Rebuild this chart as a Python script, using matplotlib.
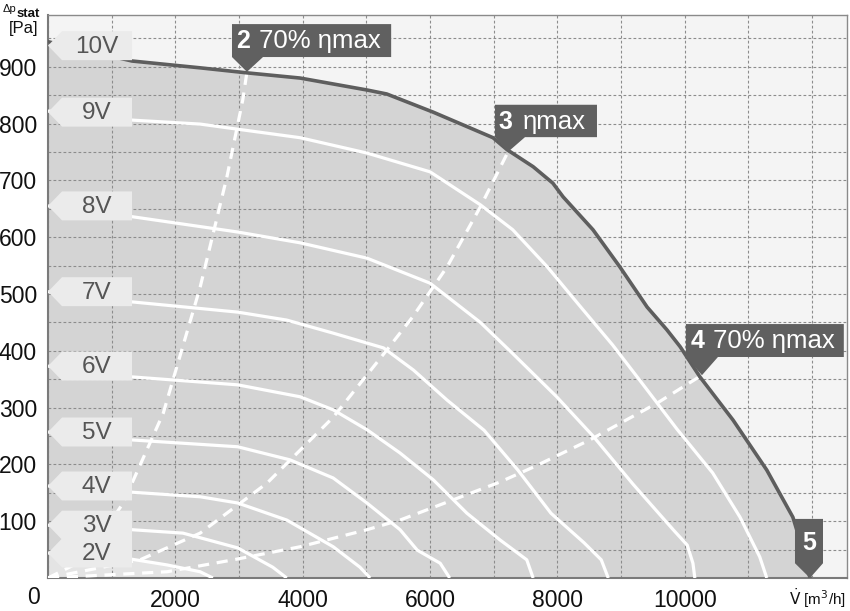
import matplotlib
matplotlib.use("Agg")
import matplotlib.pyplot as plt
from matplotlib.patches import Polygon

plt.rcParams['font.family'] = ['Liberation Sans', 'DejaVu Sans']

# fan curves: flow [m3/h], static pressure [Pa]
v10 = [0, 1320, 2390, 3140, 3960, 5010, 5320, 6050, 6990, 7210, 7620, 7930, 8090, 8560, 8980, 9410, 9720, 9930, 10240, 10760, 11290, 11700, 11760, 11970]
p10 = [944, 910, 898, 889, 880, 859, 852, 820, 775, 754, 724, 695, 671, 613, 548, 477, 437, 407, 354, 278, 190, 107, 85, 0]

v9 = [0, 1320, 2390, 3960, 5010, 6000, 6790, 7300, 7840, 8360, 8870, 9350, 9880, 10440, 10870, 11180, 11290]
p9 = [822, 806, 799, 775, 748, 715, 657, 613, 548, 478, 410, 340, 262, 185, 107, 37, 0]

v8 = [0, 1320, 2980, 3960, 5010, 6000, 6790, 7300, 7990, 8560, 9190, 9820, 10040, 10130, 10160]
p8 = [655, 636, 609, 590, 563, 519, 450, 395, 319, 250, 165, 85, 58, 26, 0]

v7 = [0, 1320, 2980, 3750, 4480, 5270, 5740, 6270, 6850, 7380, 7900, 8420, 8690, 8800]
p7 = [504, 486, 468, 454, 431, 405, 366, 313, 260, 190, 114, 62, 32, 0]

v6 = [0, 1320, 2980, 3960, 4480, 5010, 5530, 6050, 6580, 7100, 7520, 7620]
p6 = [373, 354, 340, 319, 296, 261, 220, 173, 114, 67, 32, 0]

v5 = [0, 1320, 2980, 3800, 4480, 5010, 5530, 5800, 6160, 6310]
p5 = [257, 243, 231, 208, 176, 132, 85, 49, 26, 0]

v4 = [0, 1320, 2390, 2980, 3750, 4480, 4900, 5060]
p4 = [162, 151, 143, 132, 102, 55, 19, 0]

v3 = [0, 1320, 2120, 2980, 3530, 3750]
p3 = [93, 85, 79, 53, 19, 0]

v2 = [0, 1320, 1870, 2390, 2590]
p2 = [44, 33, 23, 11, 0]

curves_v = [v9, v8, v7, v6, v5, v4, v3, v2]
curves_p = [p9, p8, p7, p6, p5, p4, p3, p2]

# system lines (dashed)
sys2_v = [0, 600, 1180, 1810, 2390, 2810, 3060, 3125]
sys2_p = [0, 34, 132, 290, 512, 706, 842, 891]
sys3_v = [0, 1445, 2390, 3440, 4480, 5320, 5730, 6270, 6790, 7225]
sys3_p = [0, 32, 79, 167, 283, 401, 460, 548, 653, 750]
sys4_v = [0, 1870, 2910, 3960, 5010, 5530, 7100, 7620, 8510, 9570, 10270]
sys4_p = [0, 11, 32, 55, 85, 102, 169, 195, 243, 308, 357]

volt_labels = ['10V', '9V', '8V', '7V', '6V', '5V', '4V', '3V', '2V']
volt_y = [937, 820, 655, 504, 373, 257, 162, 93, 44]

x_ticks = [2000, 4000, 6000, 8000, 10000]
y_ticks = [100, 200, 300, 400, 500, 600, 700, 800, 900]

fig = plt.figure(figsize=(8.5, 6.11), dpi=100)
ax = fig.add_axes([48/850, 1-578/611, (847-48)/850, (578-15)/611])
ax.set_facecolor('#f4f4f4')
ax.set_xlim(0, 12550)
ax.set_ylim(0, 991)

# operating area
ax.fill_between(v10, p10, 0, color='#d4d4d4', lw=0, zorder=1)
ax.fill_between(v2, p2, 0, color='#e4e4e4', lw=0, zorder=1.1)

# grid
ax.set_xticks(range(0, 13000, 1000))
ax.set_xticklabels([str(t) if t in x_ticks else '' for t in range(0, 13000, 1000)])
ax.set_yticks(range(0, 1000, 50))
ax.set_yticklabels([str(t) if t in y_ticks else '' for t in range(0, 1000, 50)])
ax.grid(True, color='#8c8c8c', linestyle=(0, (2.5, 2)), lw=0.8)
ax.tick_params(length=0, labelsize=16.5, colors='#111111')
ax.tick_params(axis='x', pad=8)
ax.tick_params(axis='y', pad=8)

for s in ['left', 'bottom']:
    ax.spines[s].set_color('#7a7a7a')
    ax.spines[s].set_linewidth(1.5)
for s in ['top', 'right']:
    ax.spines[s].set_color('#8a8a8a')
    ax.spines[s].set_linewidth(1.0)

# fan curves
for vv, pp in zip(curves_v, curves_p):
    ax.plot(vv, pp, color='white', lw=2.3, zorder=3, solid_joinstyle='round', solid_capstyle='butt')

for vv, pp in [(sys2_v, sys2_p), (sys3_v, sys3_p), (sys4_v, sys4_p)]:
    ax.plot(vv, pp, color='white', lw=2.3, zorder=3, dashes=(3.5, 2.4))

ax.plot(v10, p10, color='#5e5e5e', lw=2.6, zorder=4, solid_joinstyle='round')

# voltage tags
for lab, yc in zip(volt_labels, volt_y):
    h = 25.5
    poly = Polygon([(0, yc), (220, yc + h), (1320, yc + h), (1320, yc - h), (220, yc - h)],
                   closed=True, facecolor='#ebebeb', edgecolor='none', zorder=5)
    ax.add_patch(poly)
    ax.text(760, yc - 2, lab, ha='center', va='center', fontsize=17.5, color='#555555', zorder=6)

# point markers
def marker(box, tip, base, num, rest, num_x, rest_x, ty):
    x0, x1, y0, y1 = box
    pts = [(x0, y1), (x1, y1), (x1, y0), (base[1], y0), tip, (base[0], y0)]
    ax.add_patch(Polygon(pts, closed=True, facecolor='#606060', edgecolor='none', zorder=6))
    ax.text(num_x, ty, num, ha='left', va='center', fontsize=18, color='white',
            fontweight='bold', zorder=7)
    if rest:
        ax.text(rest_x, ty, rest, ha='left', va='center', fontsize=18.5, color='white', zorder=7)

marker((2890, 5390, 917, 975), (3125, 891), (2890, 3377), '2', '70% ηmax', 2950, 3320, 945)
marker((7021, 8623, 776, 833), (7225, 750), (7021, 7492), '3', 'ηmax', 7080, 7460, 803)
marker((10020, 12500, 389, 447), (10272, 357), (10020, 10523), '4', '70% ηmax', 10090, 10440, 417)
ax.add_patch(Polygon([(11733, 104), (12173, 104), (12173, 26), (11968, 0), (11733, 26)],
                     closed=True, facecolor='#606060', edgecolor='none', zorder=6))
ax.text(11955, 62, '5', ha='center', va='center', fontsize=18, color='white',
        fontweight='bold', zorder=7)

# axis titles and origin
fig.text(3/850, 1-9/611, 'Δp', fontsize=8, color='#111111', ha='left', va='center')
fig.text(17/850, 1-14/611, 'stat', fontsize=9.5, fontweight='bold', color='#111111', ha='left', va='center')
fig.text(38/850, 1-28/611, '[Pa]', fontsize=12, color='#111111', ha='right', va='center')
fig.text(33/850, 1-598/611, '0', fontsize=16.5, color='#111111', ha='center', va='center')
fig.text(846/850, 1-598/611, r'$\dot{\mathrm{V}}$ [m$^3$/h]', fontsize=11, color='#111111',
         ha='right', va='center')

fig.savefig('out.png', dpi=100)
